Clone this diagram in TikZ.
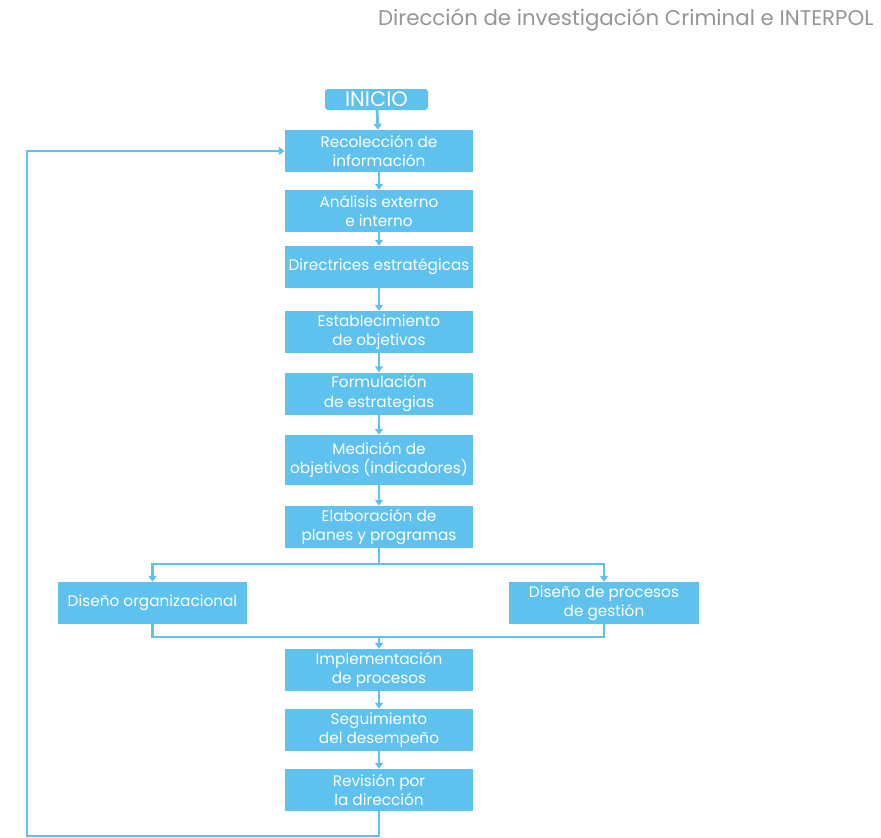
\documentclass[tikz,border=0pt]{standalone}
\usepackage{fontspec}
\setmainfont{Poppins}
\usepackage{tikz}
\usetikzlibrary{arrows.meta}
\definecolor{celeste}{RGB}{94,193,238}
\definecolor{gristexto}{RGB}{150,150,150}
\tikzset{
	caja/.style={fill=celeste,text=white,minimum width=188pt,minimum height=42pt,inner sep=0pt,align=center,font=\fontsize{15.3}{19.5}\selectfont},
	flecha/.style={-{Triangle[length=6pt,width=8pt]},line width=2.8pt,celeste},
	linea/.style={line width=2.8pt,celeste}
}
\begin{document}
\begin{tikzpicture}[x=1pt,y=-1pt]
		\useasboundingbox (0,0) rectangle (881,838);
		\node[anchor=east,text=gristexto,font=\fontsize{21.3}{24}\selectfont] (titulo) at (877,20) {Dirección de investigación Criminal e INTERPOL};
		\node[caja,minimum width=103pt,minimum height=21pt,rounded corners=3pt,font=\fontsize{21}{22}\selectfont] (inicio) at (376.5,99.5) {INICIO};
		\node[caja] (recoleccion) at (379,151) {Recolección de\\información};
		\node[caja] (analisis) at (379,211) {Análisis externo\\e interno};
		\node[caja] (directrices) at (379,267) {Directrices estratégicas};
		\node[caja] (objetivos) at (379,332) {Establecimiento\\de objetivos};
		\node[caja] (formulacion) at (379,393.5) {Formulación\\de estrategias};
		\node[caja,minimum height=50pt] (medicion) at (379,460) {Medición de\\objetivos (indicadores)};
		\node[caja] (planes) at (379,527) {Elaboración de\\planes y programas};
		\node[caja,minimum width=189pt] (organizacional) at (152.5,603) {Diseño organizacional};
		\node[caja,minimum width=190pt] (procesos) at (604,603) {Diseño de procesos\\de gestión};
		\node[caja] (implementacion) at (379,670) {Implementación\\de procesos};
		\node[caja] (seguimiento) at (379,730) {Seguimiento\\del desempeño};
		\node[caja] (revision) at (379,790) {Revisión por\\la dirección};
		\coordinate (division) at (379,564);
		\coordinate (union) at (379,637);
		\coordinate (retorno) at (27,836);
		% flujo principal
		\draw[flecha] (inicio) -- (recoleccion);
		\draw[flecha] (recoleccion) -- (analisis);
		\draw[flecha] (analisis) -- (directrices);
		\draw[flecha] (directrices) -- (objetivos);
		\draw[flecha] (objetivos) -- (formulacion);
		\draw[flecha] (formulacion) -- (medicion);
		\draw[flecha] (medicion) -- (planes);
		% bifurcacion
		\draw[linea] (planes.south) -- (division);
		\draw[flecha] (division) -| (organizacional.north);
		\draw[flecha] (division) -| (procesos.north);
		\draw[linea] (organizacional.south) |- (union);
		\draw[linea] (procesos.south) |- (union);
		\draw[flecha] (union) -- (implementacion);
		\draw[flecha] (implementacion) -- (seguimiento);
		\draw[flecha] (seguimiento) -- (revision);
		% retroalimentacion
		\draw[flecha] (revision.south) |- (retorno) |- (recoleccion.west);
		\end{tikzpicture}
\end{document}
